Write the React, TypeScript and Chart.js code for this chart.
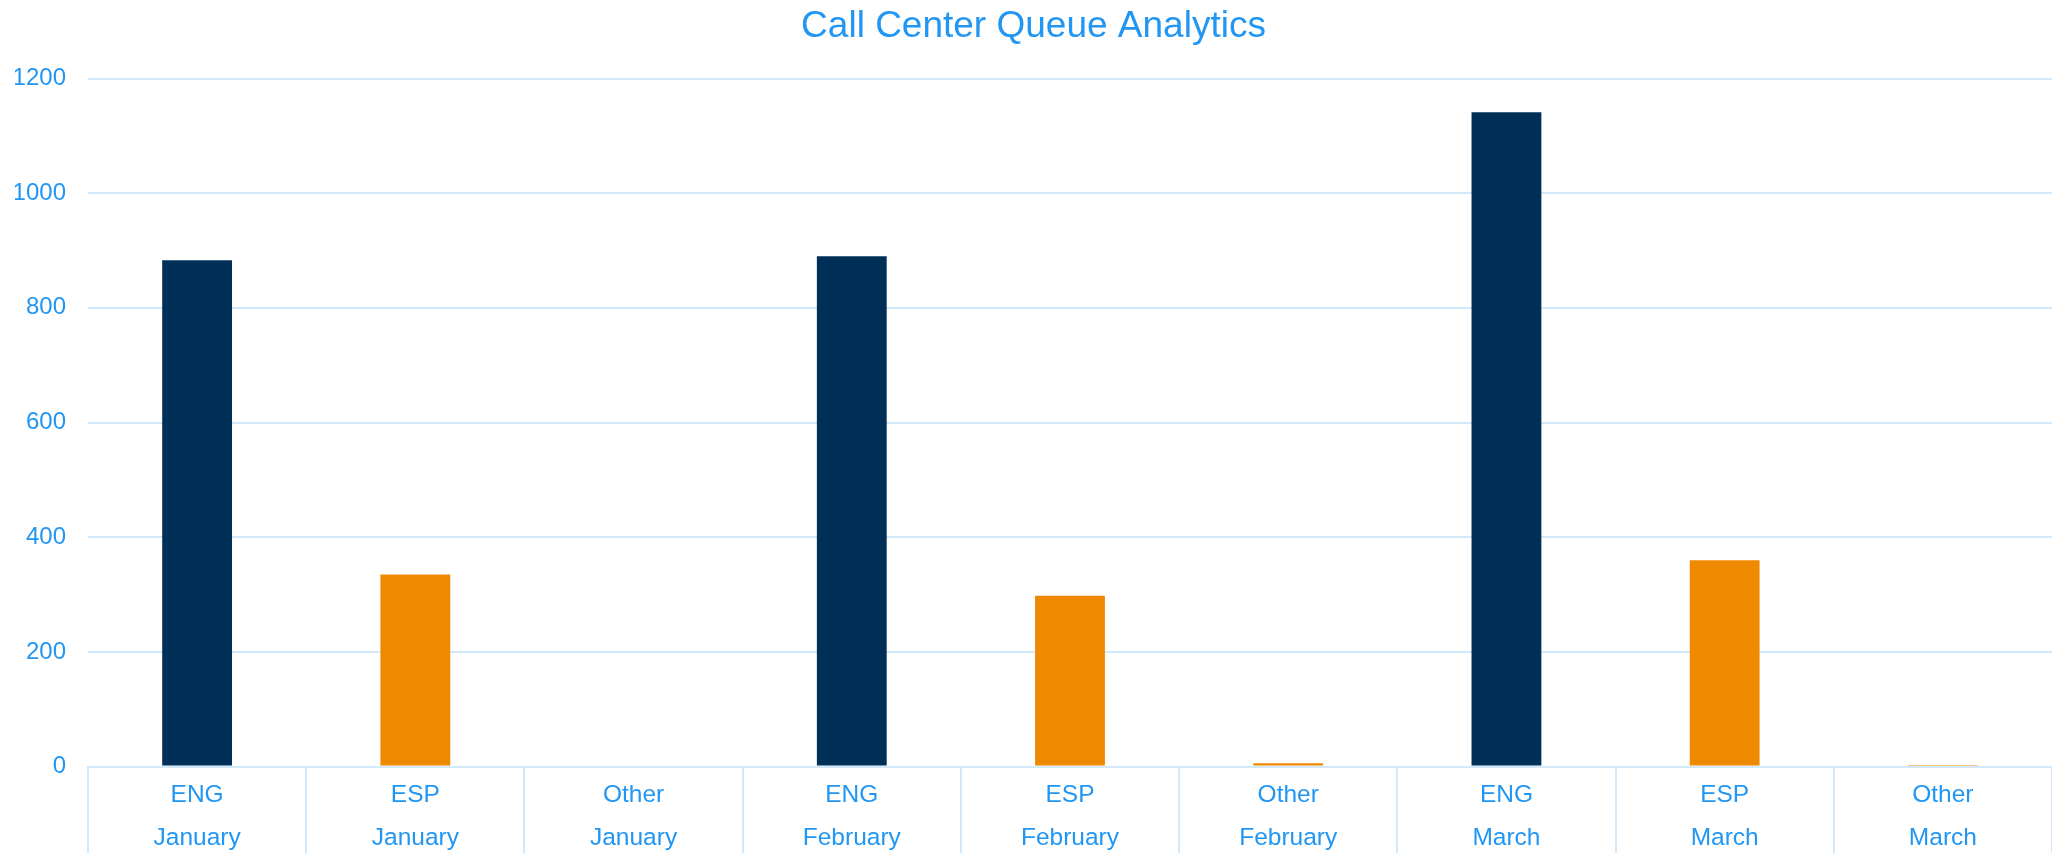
import React, { useEffect, useRef } from "react";
import { Chart, registerables } from "chart.js";

Chart.register(...registerables);

const queues = ["ENG", "ESP", "Other"];
const months = ["January", "February", "March"];
const callValues = [883, 335, 0, 890, 298, 6, 1141, 360, 3];
const queueColors: Record<string, string> = {
  ENG: "#003057",
  ESP: "#EF8A00",
  Other: "#EF8A00",
};
const yTicks = [0, 200, 400, 600, 800, 1000, 1200];

const TEXT = "#2196F3";
const GRID = "#d2e8fb";

export default function App() {
  const ref = useRef<HTMLCanvasElement | null>(null);

  useEffect(() => {
    if (!ref.current) return;
    const labels: string[][] = [];
    const colors: string[] = [];
    months.forEach((m) => {
      queues.forEach((q) => {
        labels.push([q, m]);
        colors.push(queueColors[q]);
      });
    });
    const font = "'Liberation Sans', Arial, Helvetica, sans-serif";
    const chart = new Chart(ref.current, {
      type: "bar",
      data: {
        labels,
        datasets: [
          {
            label: "Calls",
            data: callValues,
            backgroundColor: colors,
            borderWidth: 0,
            barPercentage: 0.4,
            categoryPercentage: 0.8,
          },
        ],
      },
      options: {
        responsive: false,
        animation: false,
        layout: { padding: { left: 7, right: 0, top: 0, bottom: 0 } },
        plugins: {
          legend: { display: false },
          tooltip: { enabled: false },
          title: {
            display: true,
            text: "Call Center Queue Analytics",
            color: TEXT,
            font: { family: font, size: 37, weight: "normal", lineHeight: 1 },
            padding: { top: 0, bottom: 33.5 },
          },
        },
        scales: {
          x: {
            afterFit: (scale: any) => {
              scale.height = 93.4;
            },
            grid: {
              display: true,
              drawOnChartArea: false,
              drawTicks: true,
              tickLength: 120,
              color: GRID,
              lineWidth: 2,
              offset: true,
            },
            border: { display: true, color: GRID, width: 2 },
            ticks: {
              color: TEXT,
              padding: -113,
              maxRotation: 0,
              minRotation: 0,
              autoSkip: false,
              font: { family: font, size: 24.5, lineHeight: 1.763 },
            },
          },
          y: {
            min: yTicks[0],
            max: yTicks[yTicks.length - 1],
            afterFit: (scale: any) => {
              scale.width = 73;
            },
            grid: {
              color: GRID,
              lineWidth: 2,
              drawTicks: false,
            },
            border: { display: false },
            ticks: {
              stepSize: yTicks[1] - yTicks[0],
              color: TEXT,
              padding: 22,
              font: { family: font, size: 24 },
              callback: (v: any) => String(v),
            },
          },
        },
      },
    });
    return () => chart.destroy();
  }, []);

  return (
    <div style={{ position: "fixed", left: 8, top: 8, width: 2044, height: 852 }}>
      <canvas ref={ref} width={2044} height={852} style={{ display: "block" }} />
    </div>
  );
}
